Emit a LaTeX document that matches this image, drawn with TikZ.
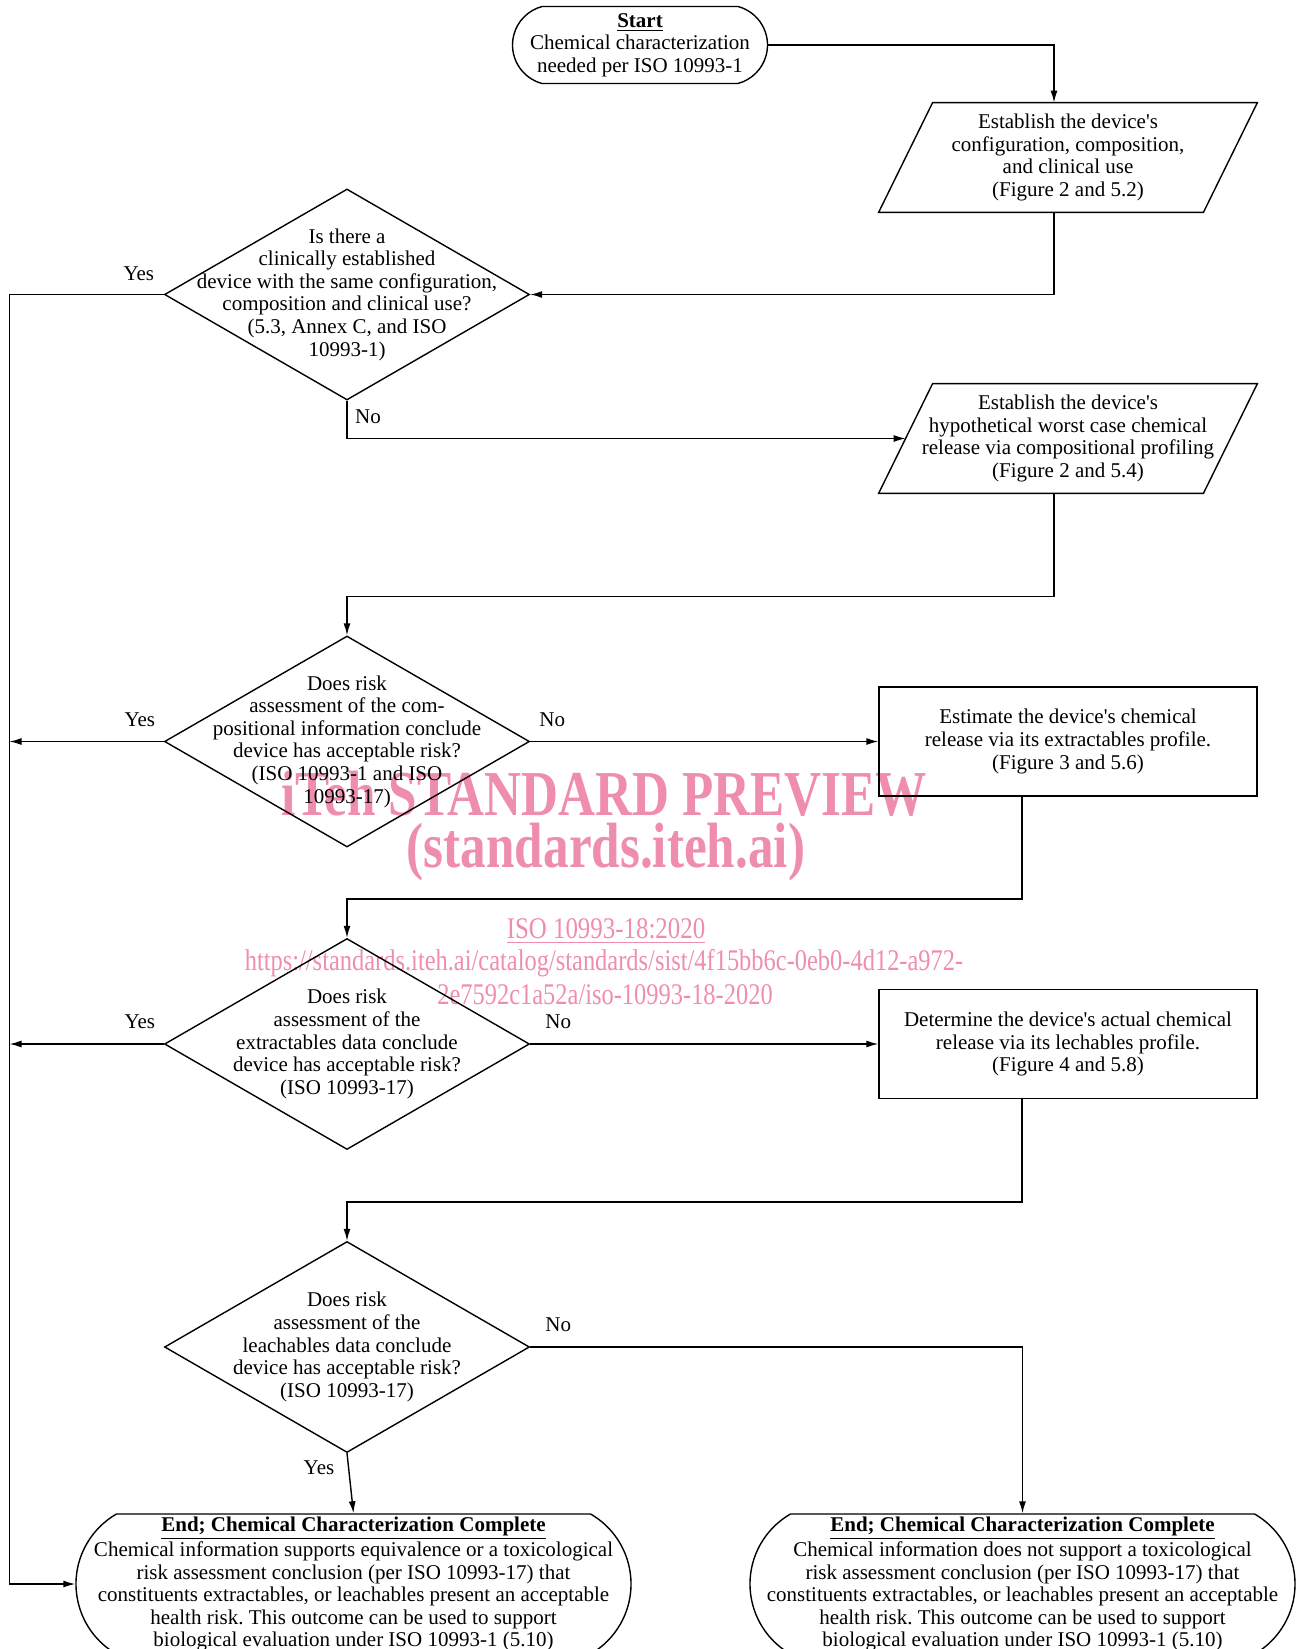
\documentclass[tikz,border=0pt]{standalone}
\usepackage{fontspec}
\setmainfont{Liberation Serif}
\usepackage{graphicx}
\usetikzlibrary{arrows.meta,calc,shapes.geometric,shapes.misc}

\definecolor{wmpink}{RGB}{239,142,172}
\newcommand{\apos}{\textquotesingle}
\frenchspacing

\tikzset{
  every node/.style={font=\fontsize{10.5}{11.3}\selectfont},
  base/.style={draw, line width=0.7pt, inner sep=0pt},
  terminal/.style={base, rounded rectangle, rounded rectangle arc length=150,
    minimum width=127.5pt, minimum height=38.5pt},
  endterm/.style={base, rounded rectangle, rounded rectangle arc length=120,
    minimum height=70pt},
  decision/.style={base, diamond, minimum width=182.5pt, minimum height=105.5pt},
  iobox/.style={inner sep=0pt, minimum width=162pt, minimum height=54.5pt, align=center},
  procbox/.style={base, rectangle, minimum width=189pt, minimum height=54.5pt, align=center},
  inside/.style={align=center, inner sep=0pt},
  lbl/.style={inner sep=0pt},
  flow/.style={line width=0.7pt, -{Latex[length=6pt,width=3.5pt]}},
  wmark/.style={text=wmpink, inner sep=0pt}
}

\begin{document}
\begin{tikzpicture}[x=0.5pt, y=-0.5pt]
\useasboundingbox (0,0) rectangle (1303,1649);

% watermark
\node[wmark, font=\fontsize{32}{32}\selectfont\bfseries] (wm1) at (604,794) {\scalebox{0.8}[1]{iTeh STANDARD PREVIEW}};
\node[wmark, font=\fontsize{32}{32}\selectfont\bfseries] (wm2) at (606,852) {\scalebox{0.8}[1]{(standards.iteh.ai)}};
\node[wmark, font=\fontsize{15}{16}\selectfont] (wm3) at (606,931) {\scalebox{0.83}[1]{\underline{ISO 10993-18:2020}}};
\node[wmark, font=\fontsize{15}{16}\selectfont] (wm4) at (604,963) {\scalebox{0.815}[1]{https://standards.iteh.ai/catalog/standards/sist/4f15bb6c-0eb0-4d12-a972-}};
\node[wmark, font=\fontsize{15}{16}\selectfont] (wm5) at (605,995) {\scalebox{0.815}[1]{2e7592c1a52a/iso-10993-18-2020}};

% shapes
\node[terminal] (start) at (640,45) {};
\node[inside] (starttxt) at (start) {\underline{\textbf{Start}}\\Chemical characterization\\needed per ISO 10993-1};

\node[iobox] (p1) at (1068,157.5) {Establish the device\apos s\\configuration, composition,\\and clinical use\\(Figure 2 and 5.2)};

\node[decision] (d1) at (347,294.5) {};
\node[inside] (d1txt) at (d1) {Is there a\\clinically established\\device with the same configuration,\\composition and clinical use?\\(5.3, Annex C, and ISO\\10993-1)};

\node[iobox] (p2) at (1068,438.5) {Establish the device\apos s\\hypothetical worst case chemical\\release via compositional profiling\\(Figure 2 and 5.4)};

% parallelogram outlines
\foreach \n in {p1,p2}
  \draw[line width=0.7pt] ([xshift=13.5pt]\n.north west) -- ([xshift=13.5pt]\n.north east)
    -- ([xshift=-13.5pt]\n.south east) -- ([xshift=-13.5pt]\n.south west) -- cycle;

\node[decision] (d2) at (347,741.5) {};
\node[inside] (d2txt) at (d2) {Does risk\\assessment of the com-\\positional information conclude\\device has acceptable risk?\\(ISO 10993-1 and ISO\\10993-17)};

\node[procbox] (b3) at (1068,741.5) {Estimate the device\apos s chemical\\release via its extractables profile.\\(Figure 3 and 5.6)};

\node[decision] (d3) at (347,1044) {};
\node[inside] (d3txt) at (d3) {Does risk\\assessment of the\\extractables data conclude\\device has acceptable risk?\\(ISO 10993-17)};

\node[procbox] (b4) at (1068,1044) {Determine the device\apos s actual chemical\\release via its lechables profile.\\(Figure 4 and 5.8)};

\node[decision] (d4) at (347,1347) {};
\node[inside] (d4txt) at (d4) {Does risk\\assessment of the\\leachables data conclude\\device has acceptable risk?\\(ISO 10993-17)};

\node[endterm, minimum width=277.5pt] (e1) at (353.5,1584) {};
\node[inside] (e1txt) at (e1) {\underline{\textbf{End; Chemical Characterization Complete}}\\Chemical information supports equivalence or a toxicological\\risk assessment conclusion (per ISO 10993-17) that\\constituents extractables, or leachables present an acceptable\\health risk. This outcome can be used to support\\biological evaluation under ISO 10993-1 (5.10)};

\node[endterm, minimum width=272.5pt] (e2) at (1022.5,1584) {};
\node[inside] (e2txt) at (e2) {\underline{\textbf{End; Chemical Characterization Complete}}\\Chemical information does not support a toxicological\\risk assessment conclusion (per ISO 10993-17) that\\constituents extractables, or leachables present an acceptable\\health risk. This outcome can be used to support\\biological evaluation under ISO 10993-1 (5.10)};

\coordinate (rail) at (9.5,0);

% connectors
\draw[flow] (start.east) -| ([xshift=-7pt]p1.north);
\draw[flow] ([xshift=-7pt]p1.south) |- (d1.east);
\draw[flow] (d1.west) -- (d1.west -| rail) |- (e1.west);
\draw[flow] (d1.south) |- (p2.west);
\draw[flow] ([xshift=-7pt]p2.south) |- ($(d2.north)+(0,-39)$) -- (d2.north);
\draw[flow] (d2.west) -- (d2.west -| rail);
\draw[flow] (d2.east) -- (b3.west);
\draw[flow] ([xshift=-23pt]b3.south) |- ($(d3.north)+(0,-39)$) -- (d3.north);
\draw[flow] (d3.west) -- (d3.west -| rail);
\draw[flow] (d3.east) -- (b4.west);
\draw[flow] ([xshift=-23pt]b4.south) |- ($(d4.north)+(0,-39)$) -- (d4.north);
\draw[flow] (d4.east) -| (e2.north);
\draw[flow] (d4.south) -- (e1.north);

% labels
\node[lbl] (yes1) at ($(d1.west)+(-25,-21)$) {Yes};
\node[lbl] (no1) at ($(d1.south)+(21,16)$) {No};
\node[lbl] (yes2) at ($(d2.west)+(-24,-22)$) {Yes};
\node[lbl] (no2) at ($(d2.east)+(22,-22)$) {No};
\node[lbl] (yes3) at ($(d3.west)+(-24,-22)$) {Yes};
\node[lbl] (no3) at ($(d3.east)+(28,-22)$) {No};
\node[lbl] (no4) at ($(d4.east)+(28,-22)$) {No};
\node[lbl] (yes4) at ($(d4.south)+(-28,15)$) {Yes};
\end{tikzpicture}
\end{document}
